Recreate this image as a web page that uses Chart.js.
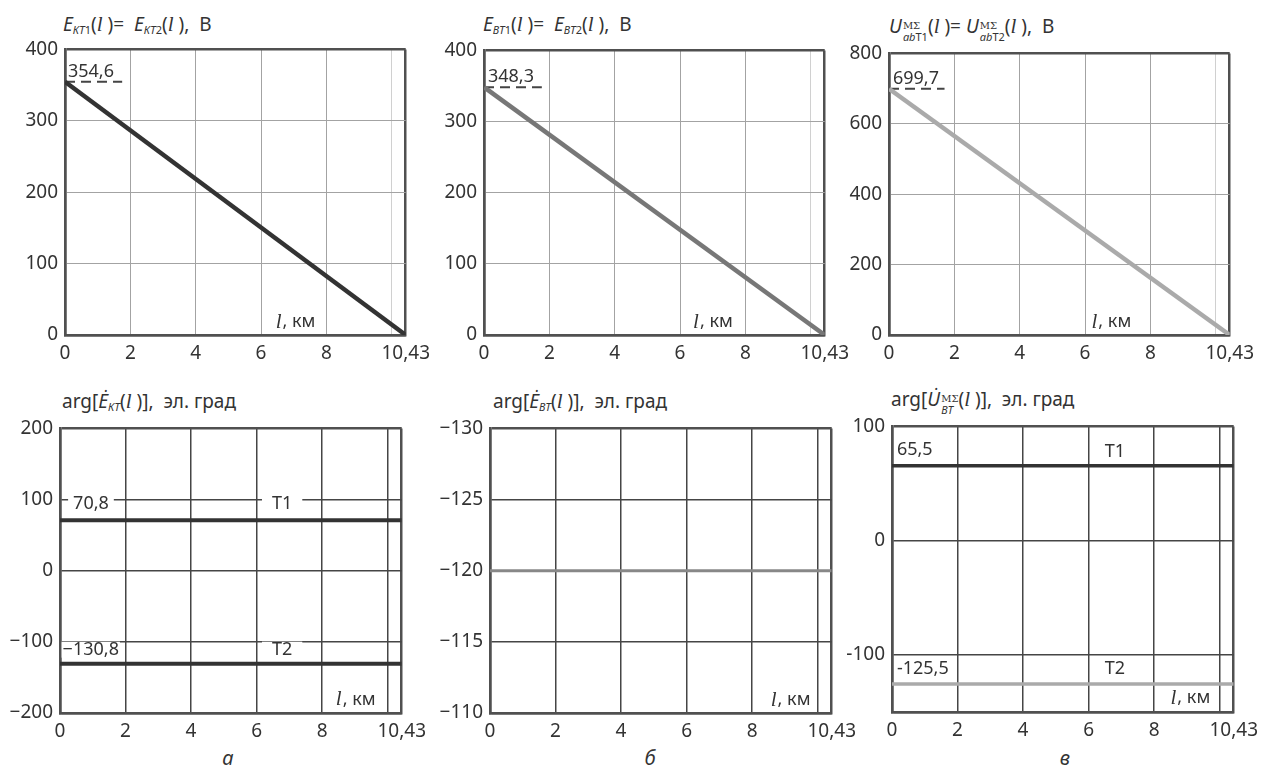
<!DOCTYPE html>
<html>
<head>
<meta charset="utf-8">
<script src="https://cdn.jsdelivr.net/npm/chart.js@4"></script>
<style>
body{margin:0;background:#fff;width:1270px;height:773px;position:relative;overflow:hidden;font-family:"Noto Sans",sans-serif;color:#333}
.box{position:absolute}
.t{position:absolute;font-size:19px;white-space:nowrap;line-height:22px}
.t sub{font-size:11px;vertical-align:-3px;line-height:0}
.t .l{font-family:"Liberation Serif",serif;font-style:italic;font-size:21px}
.stk{display:inline-block;vertical-align:-8px;font-size:11px;line-height:11px;margin-left:1px}
.stk span{display:block}
.up{font-family:"DejaVu Serif",serif;font-size:10px}
.lt{position:absolute;font-size:20px;font-style:italic;transform:translateX(-50%)}
</style>
</head>
<body>

<div class="t" style="left:63px;top:13px"><i>E</i><sub><i>КТ</i>1</sub>(<span class="l">l</span> )=&nbsp; <i>E</i><sub><i>КТ</i>2</sub>(<span class="l">l</span> ),&nbsp; В</div>
<div class="t" style="left:483px;top:13px"><i>E</i><sub><i>ВТ</i>1</sub>(<span class="l">l</span> )=&nbsp; <i>E</i><sub><i>ВТ</i>2</sub>(<span class="l">l</span> ),&nbsp; В</div>
<div class="t" style="left:889px;top:15px"><i>U</i><span class="stk"><span class="up">МΣ</span><span><i>ab</i>T1</span></span>(<span class="l">l</span> )=&nbsp;<i>U</i><span class="stk"><span class="up">МΣ</span><span><i>ab</i>T2</span></span>(<span class="l">l</span> ),&nbsp; В</div>

<div class="t" style="left:62px;top:390px">arg[<i>Ė</i><sub><i>КТ</i></sub>(<span class="l">l</span> )],&nbsp; эл. град</div>
<div class="t" style="left:493px;top:390px">arg[<i>Ė</i><sub><i>ВТ</i></sub>(<span class="l">l</span> )],&nbsp; эл. град</div>
<div class="t" style="left:891px;top:388px">arg[<i>U̇</i><span class="stk"><span class="up">МΣ</span><span><i>ВТ</i></span></span>(<span class="l">l</span> )],&nbsp; эл. град</div>

<div class="lt" style="left:228px;top:744px">а</div>
<div class="lt" style="left:650px;top:744px">б</div>
<div class="lt" style="left:1065px;top:744px">в</div>

<script>
// distance along the line, km
const distKm = [0, 10.43];
const xTicks = [0, 2, 4, 6, 8, 10, 10.43];

// top row: EMF / voltage, V
const eKT = [354.6, 0];
const eBT = [348.3, 0];
const uAB = [699.7, 0];
const yTicksE = [0, 100, 200, 300, 400];
const yTicksU = [0, 200, 400, 600, 800];

// bottom row: phase angle, el. deg
const argEKT1 = [70.8, 70.8];
const argEKT2 = [-130.8, -130.8];
const argEBT = [-120, -120];
const argUBT1 = [65.5, 65.5];
const argUBT2 = [-125.5, -125.5];
const yTicksArgKT = [-200, -100, 0, 100, 200];
const yTicksArgBT = [-130, -125, -120, -115, -110];
const yTicksArgU = [-150, -100, 0, 100];

const FONT = '"Noto Sans", sans-serif';
const comma = v => String(v).replace('.', ',');
const pts = ys => distKm.map((x, i) => ({x: x, y: ys[i]}));

const notesPlugin = {
    id: 'notes',
    beforeDatasetsDraw(chart, args, opts) {
        const ctx = chart.ctx;
        const xs = chart.scales.x, ys = chart.scales.y;
        (opts.items || []).forEach(n => {
            const px = xs.getPixelForValue(n.x);
            const py = ys.getPixelForValue(n.y);
            ctx.save();
            ctx.font = '18px ' + FONT;
            ctx.textBaseline = 'middle';
            ctx.fillStyle = '#333';
            if (n.unit) {
                ctx.font = 'italic 21px "Liberation Serif", serif';
                ctx.fillText('l', px, py);
                const w = ctx.measureText('l').width;
                ctx.font = '18px ' + FONT;
                ctx.fillText(', км', px + w + 1, py);
            } else {
                const w = ctx.measureText(n.text).width;
                let left = n.align === 'center' ? px - w / 2 : px;
                if (n.bg) {
                    ctx.fillStyle = '#fff';
                    ctx.fillRect(left - n.bg, py - 8, w + 2 * n.bg, 16);
                    ctx.fillStyle = '#333';
                }
                if (n.base) {
                    ctx.textBaseline = 'alphabetic';
                }
                ctx.fillText(n.text, left, py + (n.dy || 0));
            }
            ctx.restore();
        });
    }
};

function makePanel(p) {
    const [L, T, R, B] = p.area;
    const padTop = 12, padRight = 30, yw = 60, xh = 40;
    const div = document.createElement('div');
    div.className = 'box';
    const w = R + padRight - (L - yw), h = B + xh - (T - padTop);
    div.style.left = (L - yw) + 'px';
    div.style.top = (T - padTop) + 'px';
    const cv = document.createElement('canvas');
    cv.width = w; cv.height = h;
    div.appendChild(cv);
    document.body.appendChild(div);

    const gridCol = p.top ? '#a3a3a3' : '#454545';
    const lightCol = p.top ? '#d0d0d0' : '#454545';
    const borderCol = '#505050';
    const gridW = p.top ? 1 : 1.5;
    const gridColor = (c, lo, hi) => {
        const v = c.tick && c.tick.value;
        if (v === lo || v === hi) return borderCol;
        if (v === 10) return lightCol;
        return gridCol;
    };
    const gridWidth = (c, lo, hi) => {
        const v = c.tick && c.tick.value;
        return (v === lo || v === hi) ? 2.5 : gridW;
    };
    const yMin = Math.min(...p.yTicks), yMax = Math.max(...p.yTicks);

    new Chart(cv, {
        type: 'scatter',
        data: {
            datasets: p.series.map(s => ({
                data: s.data,
                showLine: true,
                borderColor: s.color,
                borderWidth: s.width,
                borderDash: s.dash || [],
                pointRadius: 0,
                tension: 0
            }))
        },
        options: {
            responsive: false,
            animation: false,
            devicePixelRatio: 1,
            layout: {padding: {left: 0, top: padTop, right: padRight, bottom: 0}},
            plugins: {legend: {display: false}, tooltip: {enabled: false}, notes: {items: p.notes}},
            scales: {
                x: {
                    type: 'linear', min: 0, max: 10.43,
                    afterBuildTicks: a => { a.ticks = xTicks.map(v => ({value: v})); },
                    afterFit: a => { a.height = xh; },
                    grid: {drawTicks: false, color: c => gridColor(c, 0, 10.43), lineWidth: c => gridWidth(c, 0, 10.43)},
                    border: {color: borderCol, width: 2.5},
                    ticks: {
                        autoSkip: false, maxRotation: 0, padding: 7, color: '#333',
                        font: {family: FONT, size: 19},
                        callback: v => v === 10 ? '' : comma(v)
                    }
                },
                y: {
                    type: 'linear', min: yMin, max: yMax, reverse: !!p.reverse,
                    afterBuildTicks: a => { a.ticks = p.yTicks.map(v => ({value: v})); },
                    afterFit: a => { a.width = yw; },
                    grid: {drawTicks: false, color: c => gridColor(c, yMin, yMax), lineWidth: c => gridWidth(c, yMin, yMax)},
                    border: {color: borderCol, width: 2.5},
                    ticks: {
                        autoSkip: false, padding: 7, color: '#333',
                        font: {family: FONT, size: 19},
                        callback: v => (p.hide || []).includes(v) ? '' : String(v).replace('-', p.minus)
                    }
                }
            }
        },
        plugins: [notesPlugin]
    });
}

const dashed = (v, to) => ({data: [{x: 0, y: v}, {x: to, y: v}], color: '#444', width: 2, dash: [10, 6]});

makePanel({
    area: [65, 43, 407, 335], top: true, yTicks: yTicksE, minus: '−',
    series: [{data: pts(eKT), color: '#333', width: 4.5}, dashed(eKT[0], 1.75)],
    notes: [{text: comma(eKT[0]), x: 0.09, y: eKT[0], dy: -5, base: true}, {unit: true, x: 6.45, y: 18}]
});
makePanel({
    area: [484, 44, 826, 335], top: true, yTicks: yTicksE, minus: '−',
    series: [{data: pts(eBT), color: '#777', width: 4.5}, dashed(eBT[0], 1.77)],
    notes: [{text: comma(eBT[0]), x: 0.12, y: eBT[0], dy: -5, base: true}, {unit: true, x: 6.4, y: 18}]
});
makePanel({
    area: [889, 47, 1231, 335], top: true, yTicks: yTicksU, minus: '−',
    series: [{data: pts(uAB), color: '#aaa', width: 4.5}, dashed(uAB[0], 1.7)],
    notes: [{text: comma(uAB[0]), x: 0.12, y: uAB[0], dy: -5, base: true}, {unit: true, x: 6.2, y: 36}]
});
makePanel({
    area: [60, 422, 403, 713], yTicks: yTicksArgKT, minus: '−',
    series: [{data: pts(argEKT1), color: '#333', width: 4}, {data: pts(argEKT2), color: '#333', width: 4}],
    notes: [
        {text: comma(argEKT1[0]), x: 0.4, y: 93.5, bg: 5},
        {text: 'T1', x: 6.78, y: 93.5, bg: 10, align: 'center'},
        {text: comma(argEKT2[0]).replace('-', '−'), x: 0.08, y: -111, bg: 1},
        {text: 'T2', x: 6.78, y: -111, bg: 10, align: 'center'},
        {unit: true, x: 8.42, y: -181}
    ]
});
makePanel({
    area: [490, 422, 833, 713], yTicks: yTicksArgBT, minus: '−', reverse: true,
    series: [{data: pts(argEBT), color: '#888', width: 3}],
    notes: [{unit: true, x: 8.57, y: -110.9}]
});
makePanel({
    area: [892, 420, 1235, 712], yTicks: yTicksArgU, minus: '-', hide: [-150],
    series: [{data: pts(argUBT1), color: '#333', width: 3.5}, {data: pts(argUBT2), color: '#aaa', width: 3.5}],
    notes: [
        {text: comma(argUBT1[0]), x: 0.15, y: 79.8},
        {text: 'T1', x: 6.8, y: 78, align: 'center'},
        {text: comma(argUBT2[0]), x: 0.15, y: -112.4},
        {text: 'T2', x: 6.8, y: -112.4, align: 'center'},
        {unit: true, x: 8.5, y: -138}
    ]
});
</script>
</body>
</html>
